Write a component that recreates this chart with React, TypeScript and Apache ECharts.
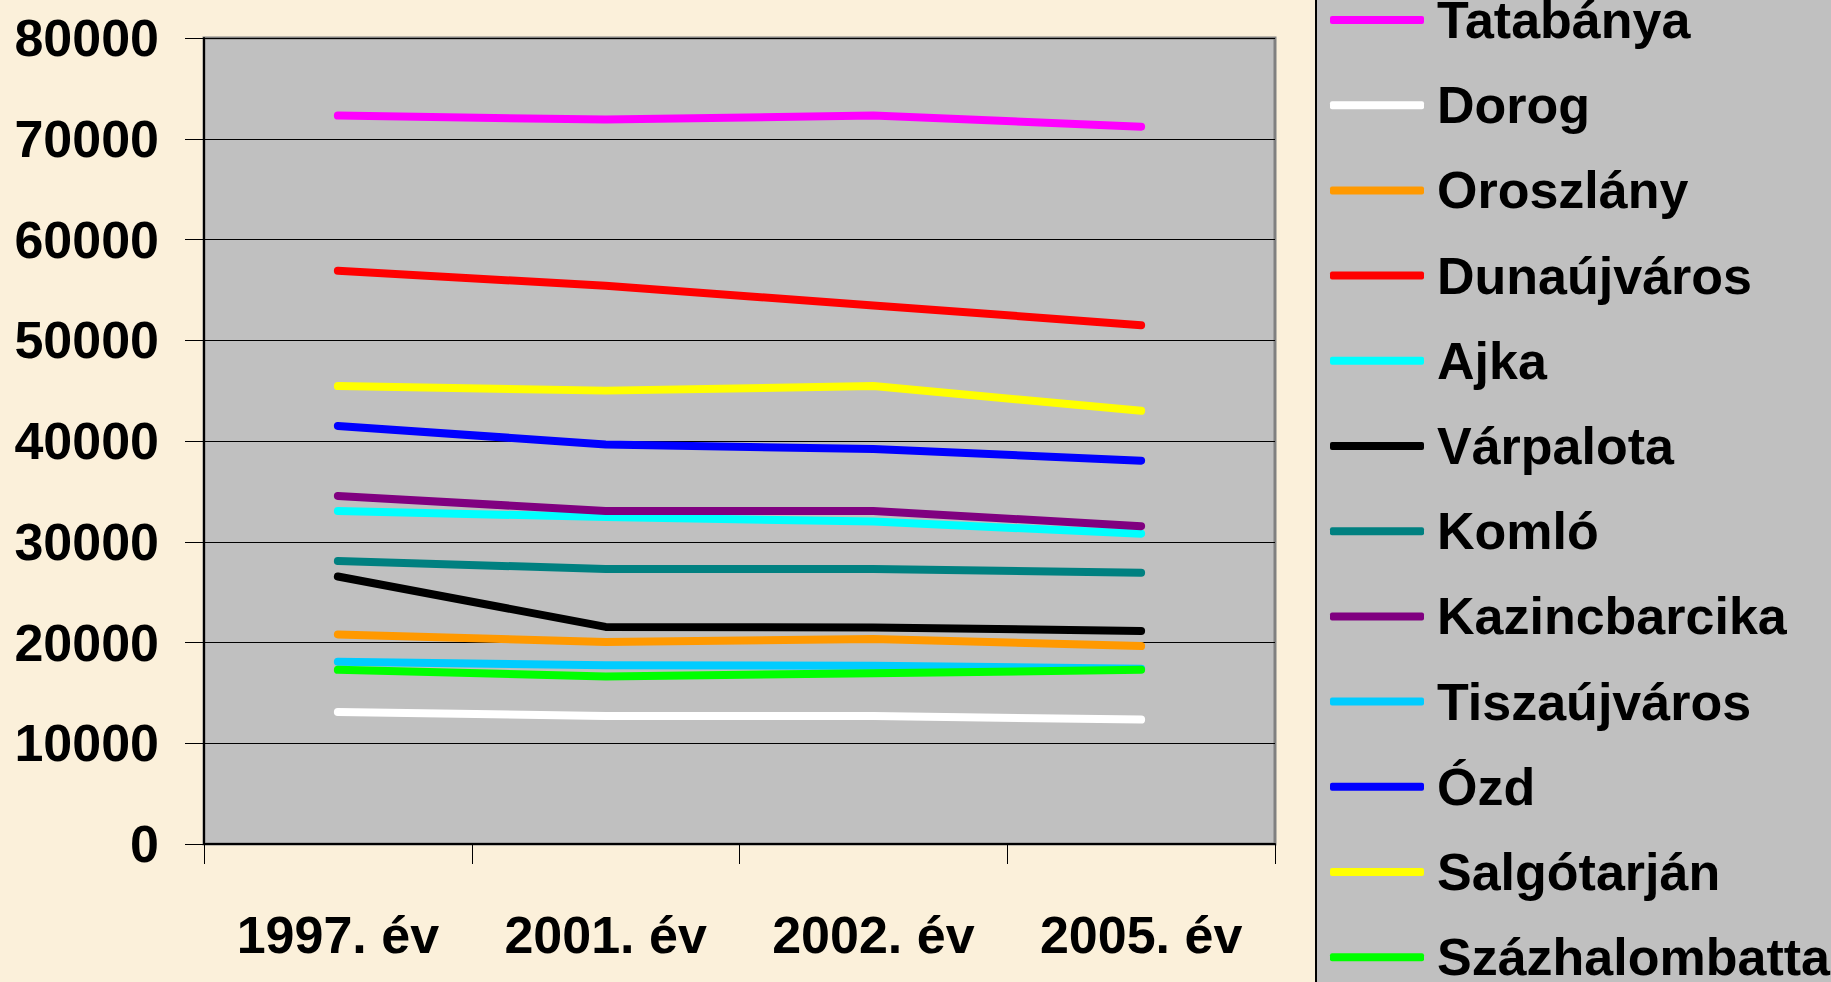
import React, { useEffect, useRef } from "react";
import * as echarts from "echarts";

const categories = ["1997. év", "2001. év", "2002. év", "2005. év"];
const yTicks = [0, 10000, 20000, 30000, 40000, 50000, 60000, 70000, 80000];

const cityNames = [
  "Tatabánya",
  "Dorog",
  "Oroszlány",
  "Dunaújváros",
  "Ajka",
  "Várpalota",
  "Komló",
  "Kazincbarcika",
  "Tiszaújváros",
  "Ózd",
  "Salgótarján",
  "Százhalombatta",
];

const tatabanya = [72300, 71900, 72300, 71200];
const dorog = [13100, 12700, 12700, 12350];
const oroszlany = [20800, 20050, 20350, 19650];
const dunaujvaros = [56900, 55400, 53450, 51500];
const ajka = [33050, 32450, 32000, 30800];
const varpalota = [26550, 21550, 21500, 21150];
const komlo = [28080, 27300, 27300, 26930];
const kazincbarcika = [34550, 33050, 33050, 31550];
const tiszaujvaros = [18100, 17750, 17700, 17400];
const ozd = [41500, 39650, 39200, 38050];
const salgotarjan = [45450, 45000, 45450, 43000];
const szazhalombatta = [17290, 16630, 16950, 17290];

const seriesValues = [
  tatabanya,
  dorog,
  oroszlany,
  dunaujvaros,
  ajka,
  varpalota,
  komlo,
  kazincbarcika,
  tiszaujvaros,
  ozd,
  salgotarjan,
  szazhalombatta,
];

const seriesColors = [
  "#ff00ff",
  "#ffffff",
  "#ff9900",
  "#ff0000",
  "#00ffff",
  "#000000",
  "#008080",
  "#800080",
  "#00ccff",
  "#0000ff",
  "#ffff00",
  "#00ff00",
];

const FONT = "'Liberation Sans', Arial, Helvetica, sans-serif";

export default function App() {
  const ref = useRef<HTMLDivElement>(null);

  useEffect(() => {
    if (!ref.current) return;
    const chart = echarts.init(ref.current, null, { renderer: "svg" });
    const option = {
      animation: false,
      backgroundColor: "#fbf0da",
      textStyle: { fontFamily: FONT },
      graphic: [
        {
          type: "rect",
          left: 1315,
          top: -5,
          shape: { x: 0, y: 0, width: 600, height: 1000 },
          style: { fill: "#c0c0c0", stroke: "#000000", lineWidth: 2 },
          z: -10,
          silent: true,
        },
      ],
      grid: {
        left: 204,
        top: 38,
        right: 556,
        bottom: 138,
        show: true,
        backgroundColor: "#c0c0c0",
        borderColor: "#808080",
        borderWidth: 3,
      },
      legend: {
        orient: "vertical",
        left: 1330,
        top: -6,
        height: 1200,
        padding: 0,
        itemGap: 33.2,
        itemWidth: 94,
        itemHeight: 8,
        icon: "roundRect",
        selectedMode: false,
        data: cityNames,
        textStyle: {
          fontFamily: FONT,
          fontSize: 52,
          fontWeight: "bold",
          color: "#000000",
          padding: [0, 0, 0, 8],
        },
      },
      xAxis: {
        type: "category",
        data: categories,
        boundaryGap: true,
        axisLine: { show: true, lineStyle: { color: "#000000", width: 2 } },
        axisTick: { show: true, length: 20, lineStyle: { color: "#000000", width: 1 } },
        axisLabel: {
          margin: 65,
          fontFamily: FONT,
          fontSize: 52,
          fontWeight: "bold",
          color: "#000000",
        },
        splitLine: { show: false },
      },
      yAxis: {
        type: "value",
        min: yTicks[0],
        max: yTicks[yTicks.length - 1],
        interval: 10000,
        axisLine: { show: true, lineStyle: { color: "#000000", width: 2 } },
        axisTick: { show: true, length: 19, lineStyle: { color: "#000000", width: 1 } },
        axisLabel: {
          margin: 45,
          fontFamily: FONT,
          fontSize: 52,
          fontWeight: "bold",
          color: "#000000",
          formatter: (v: number) => String(v),
        },
        splitLine: { show: true, lineStyle: { color: "#000000", width: 1 } },
      },
      series: cityNames.map((name, i) => ({
        name,
        type: "line",
        data: seriesValues[i],
        symbol: "none",
        showSymbol: false,
        color: seriesColors[i],
        lineStyle: { color: seriesColors[i], width: 8, cap: "round", join: "round" },
        itemStyle: { color: seriesColors[i] },
      })),
    };
    chart.setOption(option);
    return () => chart.dispose();
  }, []);

  return (
    <div
      ref={ref}
      style={{ position: "absolute", left: 0, top: 0, width: 1831, height: 982 }}
    />
  );
}
